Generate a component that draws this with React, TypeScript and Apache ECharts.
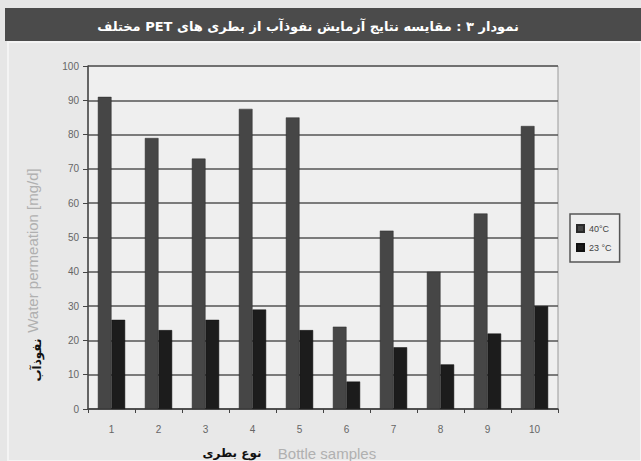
import React, { useEffect, useRef } from "react";
import * as echarts from "echarts";

const categories = ["1", "2", "3", "4", "5", "6", "7", "8", "9", "10"];
const hot40 = [91, 79, 73, 87.5, 85, 24, 52, 40, 57, 82.5];
const cool23 = [26, 23, 26, 29, 23, 8, 18, 13, 22, 30];
const seriesNames = ["40°C", "23 °C"];
const titleText = "نمودار ۳ : مقایسه نتایج آزمایش نفوذآب از بطری های PET مختلف";

export default function App() {
  const ref = useRef<HTMLDivElement>(null);
  useEffect(() => {
    document.body.style.margin = "0";
    const chart = echarts.init(ref.current!, null, { renderer: "svg" });
    chart.setOption({
      animation: false,
      backgroundColor: "#e6e6e6",
      textStyle: { fontFamily: "Liberation Sans, Arial, sans-serif" },
      graphic: [
        { type: "rect", shape: { x: 8, y: 42, width: 633, height: 419 }, style: { fill: "#e8e8e8", stroke: "#f4f4f4", lineWidth: 2 }, z: -10 },
        { type: "rect", shape: { x: 5, y: 8, width: 636, height: 33 }, style: { fill: "#4b4b4b" } },
        {
          type: "text",
          x: 308,
          y: 26,
          style: {
            // RTL embedding keeps the Latin "PET" in its right-to-left position
            text: "\u202B" + titleText + "\u202C",
            fill: "#ffffff",
            font: "bold 13px 'DejaVu Sans'",
            align: "center",
            verticalAlign: "middle",
          },
        },
        {
          type: "text",
          x: 37,
          y: 360,
          rotation: Math.PI / 2,
          style: { text: "نفوذآب", fill: "#111", font: "bold 12px 'DejaVu Sans'", align: "center", verticalAlign: "middle" },
        },
        {
          type: "text",
          x: 232,
          y: 453,
          style: { text: "نوع بطری", fill: "#111", font: "bold 12px 'DejaVu Sans'", align: "center", verticalAlign: "middle" },
        },
      ],
      grid: {
        left: 88,
        right: 83,
        top: 66,
        bottom: 52,
        outerBoundsMode: "none",
        show: true,
        backgroundColor: "#efefef",
        borderColor: "#9a9a9a",
        borderWidth: 1,
      },
      legend: {
        orient: "vertical",
        left: 570,
        top: 214,
        itemWidth: 7,
        itemHeight: 7,
        itemGap: 10,
        padding: [10, 8, 10, 6],
        borderColor: "#555",
        borderWidth: 1.5,
        backgroundColor: "#eeeeee",
        textStyle: { fontSize: 9, color: "#444" },
        icon: "rect",
        data: seriesNames,
      },
      xAxis: {
        type: "category",
        data: categories,
        name: "Bottle samples",
        nameLocation: "middle",
        nameGap: 37,
        nameTextStyle: { color: "#b0b0b0", fontSize: 15, padding: [0, 0, 0, 8] },
        axisLine: { lineStyle: { color: "#444", width: 1.5 } },
        axisTick: { show: true, length: 4, lineStyle: { color: "#444" } },
        axisLabel: { color: "#666", fontSize: 10, margin: 15 },
      },
      yAxis: {
        type: "value",
        min: 0,
        max: 100,
        interval: 10,
        name: "Water permeation [mg/d]",
        nameLocation: "middle",
        nameGap: 48,
        nameRotate: 90,
        nameTextStyle: { color: "#b0b0b0", fontSize: 15, padding: [0, 26, 0, 0] },
        axisLine: { show: true, lineStyle: { color: "#444", width: 1.5 } },
        axisTick: { show: true, length: 5, lineStyle: { color: "#444" } },
        axisLabel: { color: "#666", fontSize: 10, margin: 9 },
        splitLine: { lineStyle: { color: "#555", width: 1.5 } },
      },
      series: [
        { name: seriesNames[0], type: "bar", data: hot40, barGap: "0%", barCategoryGap: "42%", itemStyle: { color: "#464646", borderColor: "#2a2a2a", borderWidth: 0.5 } },
        { name: seriesNames[1], type: "bar", data: cool23, itemStyle: { color: "#1c1c1c", borderColor: "#111", borderWidth: 0.5 } },
      ],
    });
    return () => chart.dispose();
  }, []);
  return <div ref={ref} style={{ width: 641, height: 461, position: "absolute", left: 0, top: 0 }} />;
}
